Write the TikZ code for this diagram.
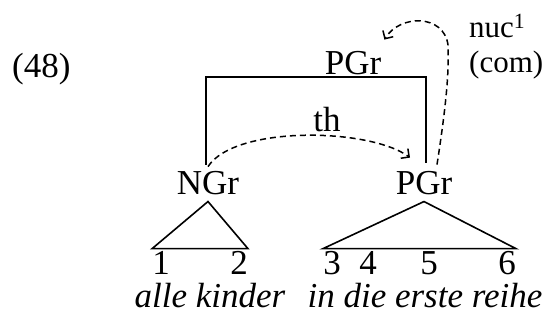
\documentclass[tikz,border=0pt]{standalone}
\usepackage{fontspec}
\setmainfont{Liberation Serif}
\usetikzlibrary{arrows.meta}
\tikzstyle{lbl} = [inner sep=0pt, anchor=base, font=\fontsize{35}{40}\selectfont]
\tikzstyle{side} = [lbl, anchor=base west, font=\fontsize{31}{36}\selectfont]
\tikzstyle{branch} = [line width=1.6pt]
\tikzstyle{dep} = [line width=1.5pt, dash pattern=on 6pt off 4pt, -{Straight Barb[length=6pt, width=12pt, line width=1.5pt]}]

\begin{document}
\begin{tikzpicture}[x=1pt, y=-1pt]
  \useasboundingbox (0,0) rectangle (547,320);
  \node[lbl, anchor=base west] (ex) at (12,78) {(48)};
  \node[lbl] (top) at (353,75) {PGr};
  \node[lbl] (ngr) at (208,195) {NGr};
  \node[lbl] (pgr) at (424,195) {PGr};
  \node[lbl] (th) at (327,132) {th};
  \node[side] (nuc) at (469,38) {nuc\textsuperscript{1}};
  \node[side] (com) at (469,73) {(com)};
  % leaves
  \node[lbl] (d1) at (161,275) {1};
  \node[lbl] (d2) at (239,275) {2};
  \node[lbl] (d3) at (332,275) {3};
  \node[lbl] (d4) at (368,275) {4};
  \node[lbl] (d5) at (429,275) {5};
  \node[lbl] (d6) at (507,275) {6};
  \node[lbl, font=\fontsize{35}{40}\selectfont\itshape] (w1) at (210,308) {alle kinder};
  \node[lbl, font=\fontsize{35}{40}\selectfont\itshape] (w2) at (425,308) {in die erste reihe};

  \draw[branch] ([xshift=-2pt,yshift=7pt]ngr.north) |- ([yshift=-2pt]top.base) -| ([xshift=2pt,yshift=9pt]pgr.north);
  \draw[branch] ([yshift=-6pt]ngr.south) -- ([yshift=3pt]d1.north west) -- ([yshift=3pt]d2.north east) -- cycle;
  \draw[branch] ([yshift=-6pt]pgr.south) -- ([yshift=3pt]d3.north west) -- ([yshift=3pt]d6.north east) -- cycle;

  \draw[dep] ([yshift=5pt]ngr.north) .. controls (235,125) and (370,128) .. ([xshift=-14pt,yshift=14pt]pgr.north);
  \draw[dep] ([xshift=13pt,yshift=7pt]pgr.north) .. controls (447,100) and (449,70) .. (448,45)
    .. controls (444,14) and (400,14) .. ([xshift=3pt,yshift=12pt]top.north east);
\end{tikzpicture}
\end{document}
